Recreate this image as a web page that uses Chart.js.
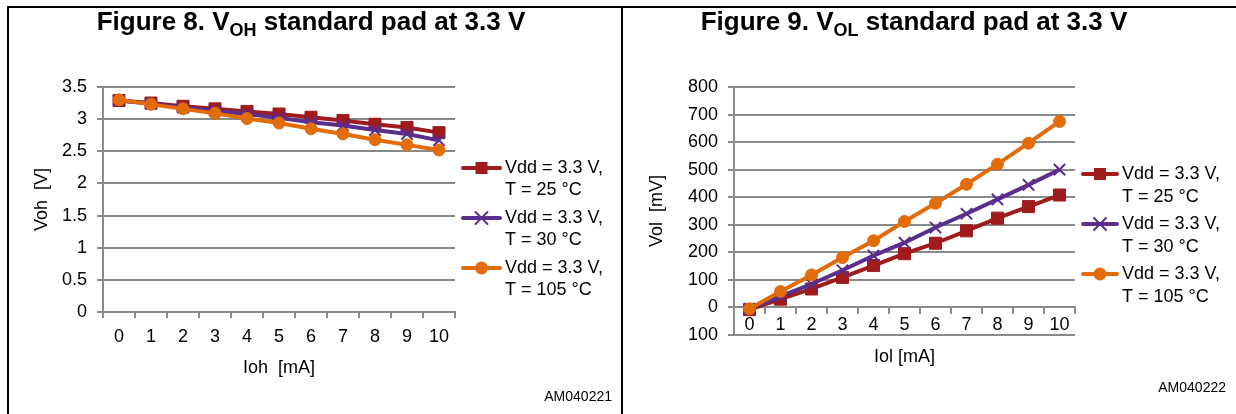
<!DOCTYPE html>
<html>
<head>
<meta charset="utf-8">
<script src="https://cdn.jsdelivr.net/npm/chart.js@4.4.0/dist/chart.umd.min.js"></script>
<style>
body { margin: 0; background: #fff; width: 1236px; height: 414px; overflow: hidden; position: relative; font-family: "Liberation Sans", Arial, sans-serif; }
.rule { position: absolute; background: #000; }
canvas { position: absolute; top: 0; }
.title { position: absolute; top: 7px; line-height: 28px; font-weight: bold; font-size: 26px; text-align: center; white-space: nowrap; }
.title sub { font-size: 18px; vertical-align: -6px; line-height: 0; }
.code { position: absolute; font-size: 14px; line-height: 16px; text-align: right; width: 120px; }
</style>
</head>
<body>
<div class="rule" style="left:7px;top:6px;width:1229px;height:2px"></div>
<div class="rule" style="left:7px;top:6px;width:2px;height:408px"></div>
<div class="rule" style="left:621px;top:6px;width:2px;height:408px"></div>

<canvas id="vohChart" width="622" height="414" style="left:0"></canvas>
<canvas id="volChart" width="614" height="414" style="left:622px"></canvas>

<div class="title" style="left:9px;width:604px">Figure 8. V<sub>OH</sub> standard pad at 3.3 V</div>
<div class="title" style="left:623px;width:582px">Figure 9. V<sub>OL</sub> standard pad at 3.3 V</div>
<div class="code" style="left:492px;top:388px">AM040221</div>
<div class="code" style="left:1106px;top:379px">AM040222</div>

<script>
// categories (load current in mA)
const currents = ['0', '1', '2', '3', '4', '5', '6', '7', '8', '9', '10'];
const seriesNames = [
    ['Vdd = 3.3 V,', 'T = 25 °C'],
    ['Vdd = 3.3 V,', 'T = 30 °C'],
    ['Vdd = 3.3 V,', 'T = 105 °C']
];

// Figure 8 - Voh [V]
const voh25 = [3.29, 3.25, 3.20, 3.16, 3.12, 3.08, 3.03, 2.98, 2.92, 2.87, 2.79];
const voh30 = [3.29, 3.24, 3.18, 3.13, 3.08, 3.02, 2.95, 2.90, 2.83, 2.77, 2.67];
const voh105 = [3.30, 3.23, 3.16, 3.09, 3.01, 2.94, 2.85, 2.77, 2.68, 2.60, 2.52];

// Figure 9 - Vol [mV]
const vol25 = [-8, 30, 67, 109, 152, 195, 233, 278, 324, 366, 408];
const vol30 = [-5, 40, 85, 135, 188, 235, 290, 340, 392, 445, 500];
const vol105 = [-5, 58, 118, 181, 242, 312, 378, 447, 520, 596, 675];
// tick labels as printed on the figure (bottom one lost its minus sign)
const volTickLabels = ['100', '0', '100', '200', '300', '400', '500', '600', '700', '800'];

const RED = '#A01B1C';
const PURPLE = '#5B2D8C';
const ORANGE = '#E36C0A';
const GRID = '#8a8a8a';
const FONT = '"Liberation Sans", Arial, sans-serif';

// legend drawn as line + marker like the original
const lineLegend = {
    id: 'lineLegend',
    afterDraw(chart, args, opts) {
        const ctx = chart.ctx;
        chart.data.datasets.forEach((ds, i) => {
            const y = opts.top + i * opts.gap;
            const mx = (opts.x0 + opts.x1) / 2;
            ctx.save();
            ctx.strokeStyle = ds.borderColor;
            ctx.lineWidth = 4;
            ctx.lineCap = 'round';
            ctx.beginPath();
            ctx.moveTo(opts.x0, y);
            ctx.lineTo(opts.x1, y);
            ctx.stroke();
            ctx.fillStyle = ds.borderColor;
            ctx.lineWidth = 2;
            if (ds.pointStyle === 'rect') {
                ctx.fillRect(mx - 6, y - 6, 12, 12);
            } else if (ds.pointStyle === 'circle') {
                ctx.beginPath();
                ctx.arc(mx, y, 6.5, 0, Math.PI * 2);
                ctx.fill();
            } else {
                ctx.beginPath();
                ctx.moveTo(mx - 6, y - 6); ctx.lineTo(mx + 6, y + 6);
                ctx.moveTo(mx + 6, y - 6); ctx.lineTo(mx - 6, y + 6);
                ctx.stroke();
            }
            ctx.fillStyle = '#000';
            ctx.font = '18px ' + FONT;
            ctx.textBaseline = 'middle';
            ctx.textAlign = 'left';
            seriesNames[i].forEach((t, k) => ctx.fillText(t, opts.tx, y + k * opts.lineGap));
            ctx.restore();
        });
    }
};

function makeDatasets(a, b, c) {
    return [
        { label: seriesNames[0].join(' '), data: a, borderColor: RED, backgroundColor: RED,
          pointStyle: 'rect', pointRadius: 8.5, pointBorderWidth: 1, pointBackgroundColor: RED, pointBorderColor: RED, order: 2 },
        { label: seriesNames[1].join(' '), data: b, borderColor: PURPLE, backgroundColor: PURPLE,
          pointStyle: 'crossRot', pointRadius: 8, pointBorderWidth: 2, pointBorderColor: PURPLE, order: 1 },
        { label: seriesNames[2].join(' '), data: c, borderColor: ORANGE, backgroundColor: ORANGE,
          pointStyle: 'circle', pointRadius: 6, pointBorderWidth: 1, pointBackgroundColor: ORANGE, pointBorderColor: ORANGE, order: 0 }
    ].map(d => Object.assign(d, { borderWidth: 4, tension: 0, fill: false }));
}

const tickFont = { size: 18, family: FONT };
const titleFont = { size: 18, family: FONT };

// Figure 8
new Chart(document.getElementById('vohChart'), {
    type: 'line',
    data: { labels: currents, datasets: makeDatasets(voh25, voh30, voh105) },
    options: {
        responsive: false,
        animation: false,
        layout: { padding: { left: 0, top: 87, right: 167, bottom: 0 } },
        plugins: {
            legend: { display: false },
            tooltip: { enabled: false },
            lineLegend: { x0: 463, x1: 500, tx: 505, top: 168, gap: 50, lineGap: 22 }
        },
        scales: {
            x: {
                offset: true,
                ticks: { color: '#000', font: tickFont, padding: 8, maxRotation: 0, autoSkip: false },
                grid: { offset: true, drawOnChartArea: false, color: GRID, lineWidth: 2, tickLength: 6 },
                border: { color: GRID, width: 2 },
                title: { display: true, text: 'Ioh  [mA]', color: '#000', font: titleFont, padding: { top: 0, bottom: 35 } },
                afterFit(s) { s.height = 102; }
            },
            y: {
                min: 0, max: 3.5,
                ticks: { stepSize: 0.5, color: '#000', font: tickFont, padding: 10, callback: v => String(v) },
                grid: { color: GRID, lineWidth: 2, tickLength: 6 },
                border: { color: GRID, width: 2 },
                title: { display: true, text: 'Voh  [V]', color: '#000', font: titleFont, padding: { top: 31, bottom: 0 } },
                afterFit(s) { s.width = 103; }
            }
        }
    },
    plugins: [lineLegend]
});

// Figure 9
new Chart(document.getElementById('volChart'), {
    type: 'line',
    data: { labels: currents, datasets: makeDatasets(vol25, vol30, vol105) },
    options: {
        responsive: false,
        animation: false,
        layout: { padding: { left: 0, top: 87, right: 161, bottom: 79 } },
        plugins: {
            legend: { display: false },
            tooltip: { enabled: false },
            lineLegend: { x0: 461, x1: 495, tx: 500, top: 174, gap: 50, lineGap: 23 }
        },
        scales: {
            x: {
                position: { y: 0 },
                offset: true,
                ticks: { color: '#000', font: tickFont, padding: 1, maxRotation: 0, autoSkip: false },
                grid: { offset: true, drawOnChartArea: false, color: GRID, lineWidth: 2, tickLength: 6 },
                border: { color: GRID, width: 2 },
                title: { display: true, text: 'Iol [mA]', color: '#000', font: titleFont, padding: { top: 0, bottom: 0 } },
                afterFit(s) { s.height = 60; }
            },
            y: {
                min: -100, max: 800,
                ticks: { stepSize: 100, color: '#000', font: tickFont, padding: 10,
                         callback: (v, i) => volTickLabels[i] },
                grid: { color: GRID, lineWidth: 2, tickLength: 6 },
                border: { color: GRID, width: 2 },
                title: { display: true, text: 'Vol  [mV]', color: '#000', font: titleFont, padding: { top: 24, bottom: 0 } },
                afterFit(s) { s.width = 112; }
            }
        }
    },
    plugins: [lineLegend]
});
</script>
</body>
</html>
